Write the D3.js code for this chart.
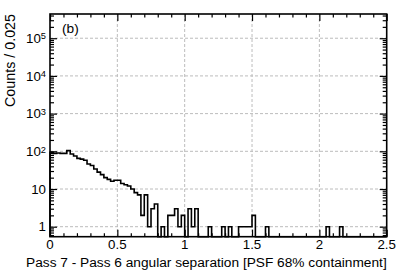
<!DOCTYPE html>
<meta charset="utf-8">
<style>
body { margin: 0; background: #fff; }
svg text { font-family: "Liberation Sans", Arial, Helvetica, sans-serif; fill: #000; }
.grid line { stroke: #bcbcbc; stroke-width: 1; stroke-dasharray: 3,2; }
.axis path { display: none; }
.axis line { stroke: #000; stroke-width: 1.2; }
</style>
<body>
<svg width="399" height="273"></svg>
<script src="https://d3js.org/d3.v7.min.js"></script>
<script>

// histogram: counts per 0.025 bin, from 0 to 2.5
var binWidth = 0.025;
var counts = [
  94, 88, 90, 88, 88, 104, 85, 75, 65, 62,
  58, 46, 42, 34, 28, 24, 20, 18, 16, 17,
  17, 14, 13, 12, 10, 8, 7, 2, 7, 1,
  3, 4, 0, 1, 0, 2, 2, 3, 1, 2,
  0, 3, 1, 3, 0, 0, 0, 1, 0, 0,
  0, 1, 0, 1, 0, 0, 1, 1, 1, 1,
  2, 0, 0, 0, 1, 0, 0, 0, 0, 0,
  0, 0, 0, 0, 0, 0, 0, 0, 0, 0,
  0, 0, 1, 0, 0, 0, 1, 0, 0, 0,
  0, 0, 0, 0, 0, 0, 0, 0, 0, 0
];

var xMajor = [0, 0.5, 1, 1.5, 2, 2.5];
var xLabels = ["0", "0.5", "1", "1.5", "2", "2.5"];
var yMajor = [1, 10, 100, 1000, 10000, 100000];
var yLabelBase = ["1", "10", "10", "10", "10", "10"];
var yLabelExp = ["", "", "2", "3", "4", "5"];
var xTitle = "Pass 7 - Pass 6 angular separation [PSF 68% containment]";
var yTitle = "Counts / 0.025";
var panelLabel = "(b)";

var svg = d3.select("svg"),
    pLeft = 50, pRight = 386.7, pTop = 14, pBottom = 236.7;

var x = d3.scaleLinear().domain([0, 2.5]).range([pLeft, pRight]);
var y = d3.scaleLog().domain([0.543, 4.39e5]).range([pBottom, pTop]).clamp(true);

// minor ticks
var xMinor = d3.range(0, 25.5, 1).map(function(d) { return d / 10; })
    .filter(function(d) { return Math.abs(d * 2 - Math.round(d * 2)) > 1e-6; });
var yMinor = [];
[0.1, 1, 10, 100, 1000, 10000, 100000].forEach(function(k) {
  for (var m = 2; m <= 9; m++) {
    var v = m * k;
    if (v >= y.domain()[0] && v <= y.domain()[1]) yMinor.push(v);
  }
});

// grid
var grid = svg.append("g").attr("class", "grid");
grid.selectAll(".gx")
    .data(xMajor.slice(1, -1))
    .enter().append("line")
    .attr("x1", function(d) { return x(d); })
    .attr("x2", function(d) { return x(d); })
    .attr("y1", pTop).attr("y2", pBottom);
grid.selectAll(".gy")
    .data(yMajor)
    .enter().append("line")
    .attr("x1", pLeft).attr("x2", pRight)
    .attr("y1", function(d) { return y(d); })
    .attr("y2", function(d) { return y(d); });

// histogram outline
var pts = [[x(0), pBottom]];
counts.forEach(function(c, i) {
  var yy = c > 0 ? y(c) : pBottom;
  pts.push([x(i * binWidth), yy]);
  pts.push([x((i + 1) * binWidth), yy]);
});
pts.push([x(2.5), pBottom]);

svg.append("path")
    .attr("d", d3.line()(pts))
    .attr("fill", "none")
    .attr("stroke", "#000")
    .attr("stroke-width", 1.6)
    .attr("stroke-linejoin", "miter");

// axes, ticks pointing inward
function addAxis(axis, tx, ty) {
  svg.append("g").attr("class", "axis")
      .attr("transform", "translate(" + tx + "," + ty + ")")
      .call(axis)
      .selectAll("text").remove();
}
addAxis(d3.axisBottom(x).tickValues(xMajor).tickSize(-7), 0, pBottom);
addAxis(d3.axisBottom(x).tickValues(xMinor).tickSize(-3.5), 0, pBottom);
addAxis(d3.axisTop(x).tickValues(xMajor).tickSize(-7), 0, pTop);
addAxis(d3.axisTop(x).tickValues(xMinor).tickSize(-3.5), 0, pTop);
addAxis(d3.axisLeft(y).tickValues(yMajor).tickSize(-7), pLeft, 0);
addAxis(d3.axisLeft(y).tickValues(yMinor).tickSize(-4), pLeft, 0);
addAxis(d3.axisRight(y).tickValues(yMajor).tickSize(-7), pRight, 0);
addAxis(d3.axisRight(y).tickValues(yMinor).tickSize(-4), pRight, 0);

// frame
svg.append("rect")
    .attr("x", pLeft).attr("y", pTop)
    .attr("width", pRight - pLeft).attr("height", pBottom - pTop)
    .attr("fill", "none")
    .attr("stroke", "#000")
    .attr("stroke-width", 1.6);

// x tick labels
svg.selectAll(".xl")
    .data(xMajor)
    .enter().append("text")
    .attr("x", function(d) { return x(d); })
    .attr("y", 249)
    .attr("text-anchor", "middle")
    .attr("font-size", "13.3px")
    .text(function(d, i) { return xLabels[i]; });

// y tick labels with exponents
var yl = svg.selectAll(".yl")
    .data(yMajor)
    .enter().append("text")
    .attr("x", 46)
    .attr("y", function(d) { return y(d) + 4.7; })
    .attr("text-anchor", "end")
    .attr("font-size", "13.3px");
yl.append("tspan").text(function(d, i) { return yLabelBase[i]; });
yl.append("tspan")
    .attr("font-size", "9.3px")
    .attr("dy", -3.5)
    .text(function(d, i) { return yLabelExp[i]; });

// titles
svg.append("text")
    .attr("x", pRight)
    .attr("y", 267)
    .attr("text-anchor", "end")
    .attr("font-size", "13.7px")
    .text(xTitle);

svg.append("text")
    .attr("transform", "translate(15," + pTop + ") rotate(-90)")
    .attr("text-anchor", "end")
    .attr("font-size", "14.3px")
    .text(yTitle);

svg.append("text")
    .attr("x", 62)
    .attr("y", 33)
    .attr("font-size", "13.7px")
    .text(panelLabel);

</script>
</body>
